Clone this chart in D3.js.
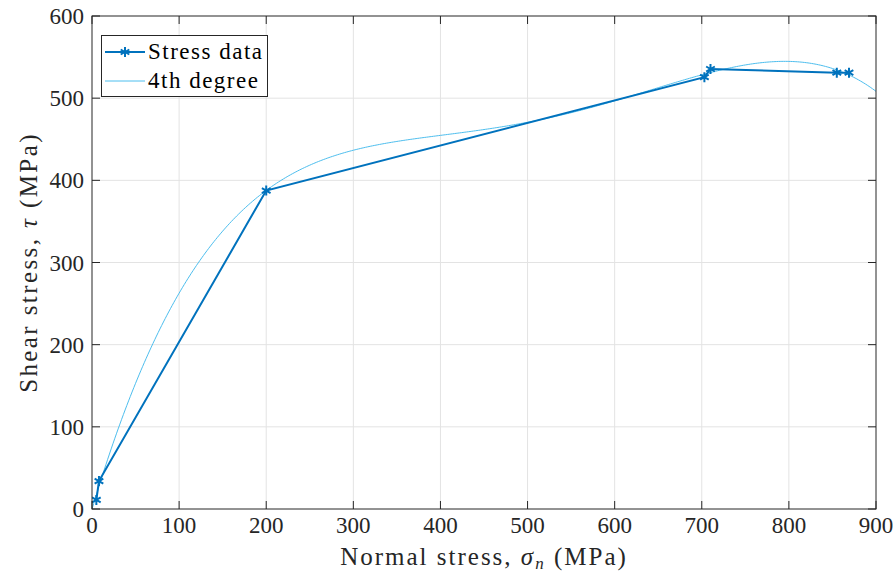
<!DOCTYPE html>
<html>
<head>
<meta charset="utf-8">
<script src="https://cdn.jsdelivr.net/npm/d3@7"></script>
<style>
  html, body { margin: 0; padding: 0; background: #fff; }
  svg { display: block; }
</style>
</head>
<body>
<svg id="chart" width="896" height="575"></svg>
<script>
// Measured stress data (MPa)
const normalStress = [5, 8, 200, 703, 710, 855, 869];
const shearStress  = [11, 34, 387.5, 525.5, 535.5, 531, 531];

const xTicks = [0, 100, 200, 300, 400, 500, 600, 700, 800, 900];
const yTicks = [0, 100, 200, 300, 400, 500, 600];
const seriesNames = ["Stress data", "4th degree"];
const fitDegree = 4;

const dataColor = "#0072BD";
const fitColor = "#4DBEEE";
const FONT = "Liberation Serif";

const svg = d3.select("#chart");
const margin = { left: 92, right: 20, top: 16, bottom: 66 };
const W = 896, H = 575;
const x = d3.scaleLinear().domain([0, 900]).range([margin.left, W - margin.right]);
const y = d3.scaleLinear().domain([0, 600]).range([H - margin.bottom, margin.top]);

// Least-squares polynomial fit (normal equations on scaled x)
function polyfit(xs, ys, deg) {
  const s = 1000;
  const n = deg + 1;
  const A = Array.from({ length: n }, () => new Array(n + 1).fill(0));
  xs.forEach((xv, k) => {
    const t = xv / s;
    const p = [];
    for (let i = 0; i < n; i++) p.push(Math.pow(t, i));
    for (let i = 0; i < n; i++) {
      for (let j = 0; j < n; j++) A[i][j] += p[i] * p[j];
      A[i][n] += p[i] * ys[k];
    }
  });
  for (let c = 0; c < n; c++) {
    let piv = c;
    for (let r = c + 1; r < n; r++) if (Math.abs(A[r][c]) > Math.abs(A[piv][c])) piv = r;
    [A[c], A[piv]] = [A[piv], A[c]];
    for (let r = 0; r < n; r++) {
      if (r === c) continue;
      const f = A[r][c] / A[c][c];
      for (let k = c; k <= n; k++) A[r][k] -= f * A[c][k];
    }
  }
  const coef = A.map((row, i) => row[n] / row[i]);
  return xv => coef.reduce((acc, c, i) => acc + c * Math.pow(xv / s, i), 0);
}
const fit = polyfit(normalStress, shearStress, fitDegree);
const fitX = d3.range(0, 900.01, 2);

// Grid
const grid = svg.append("g").attr("stroke", "#e3e3e3").attr("stroke-width", 1);
xTicks.slice(1, -1).forEach(t => grid.append("line")
  .attr("x1", x(t)).attr("x2", x(t)).attr("y1", y(0)).attr("y2", y(600)));
yTicks.slice(1, -1).forEach(t => grid.append("line")
  .attr("x1", x(0)).attr("x2", x(900)).attr("y1", y(t)).attr("y2", y(t)));

// Clip to plot area
svg.append("defs").append("clipPath").attr("id", "plot")
  .append("rect").attr("x", x(0)).attr("y", y(600))
  .attr("width", x(900) - x(0)).attr("height", y(0) - y(600));

const plot = svg.append("g").attr("clip-path", "url(#plot)");

// Fitted curve
plot.append("path")
  .datum(fitX)
  .attr("fill", "none").attr("stroke", fitColor).attr("stroke-width", 1)
  .attr("d", d3.line().x(d => x(d)).y(d => y(fit(d))));

// Data line
const pts = normalStress.map((v, i) => [v, shearStress[i]]);
plot.append("path")
  .datum(pts)
  .attr("fill", "none").attr("stroke", dataColor).attr("stroke-width", 2)
  .attr("d", d3.line().x(d => x(d[0])).y(d => y(d[1])));

const star = d3.symbol().type(d3.symbolAsterisk).size(70);
plot.selectAll("path.mk").data(pts).join("path")
  .attr("class", "mk")
  .attr("transform", d => `translate(${x(d[0])},${y(d[1])})`)
  .attr("d", star)
  .attr("fill", "none").attr("stroke", dataColor).attr("stroke-width", 2);

// Axes box
const axisColor = "#262626";
svg.append("rect")
  .attr("x", x(0)).attr("y", y(600))
  .attr("width", x(900) - x(0)).attr("height", y(0) - y(600))
  .attr("fill", "none").attr("stroke", axisColor).attr("stroke-width", 1);

// Ticks (inside, on all four sides)
const tk = svg.append("g").attr("stroke", axisColor).attr("stroke-width", 1);
xTicks.forEach(t => {
  tk.append("line").attr("x1", x(t)).attr("x2", x(t)).attr("y1", y(0)).attr("y2", y(0) - 8);
  tk.append("line").attr("x1", x(t)).attr("x2", x(t)).attr("y1", y(600)).attr("y2", y(600) + 8);
});
yTicks.forEach(t => {
  tk.append("line").attr("x1", x(0)).attr("x2", x(0) + 8).attr("y1", y(t)).attr("y2", y(t));
  tk.append("line").attr("x1", x(900)).attr("x2", x(900) - 8).attr("y1", y(t)).attr("y2", y(t));
});

// Tick labels
svg.append("g").selectAll("text").data(xTicks).join("text")
  .attr("x", d => x(d)).attr("y", y(0) + 24)
  .attr("text-anchor", "middle").attr("font-family", FONT).attr("font-size", 23).attr("fill", axisColor)
  .text(d => d);
svg.append("g").selectAll("text").data(yTicks).join("text")
  .attr("x", x(0) - 8).attr("y", d => y(d) + 8)
  .attr("text-anchor", "end").attr("font-family", FONT).attr("font-size", 23).attr("fill", axisColor)
  .text(d => d);

// Axis titles
const xt = svg.append("text")
  .attr("x", (x(0) + x(900)) / 2).attr("y", 565)
  .attr("text-anchor", "middle").attr("font-family", FONT).attr("font-size", 25)
  .attr("letter-spacing", 2).attr("fill", axisColor);
xt.append("tspan").text("Normal stress, ");
xt.append("tspan").attr("font-style", "italic").text("σ");
xt.append("tspan").attr("font-style", "italic").attr("font-size", 17).attr("dy", 4).text("n");
xt.append("tspan").attr("dy", -4).text(" (MPa)");

const yt = svg.append("text")
  .attr("transform", `translate(37,${(y(0) + y(600)) / 2}) rotate(-90)`)
  .attr("text-anchor", "middle").attr("font-family", FONT).attr("font-size", 25)
  .attr("letter-spacing", 2.4).attr("fill", axisColor);
yt.append("tspan").text("Shear stress, ");
yt.append("tspan").attr("font-style", "italic").text("τ");
yt.append("tspan").text("  (MPa)");

// Legend
const lg = svg.append("g");
lg.append("rect").attr("x", 101.5).attr("y", 35.5).attr("width", 166).attr("height", 61)
  .attr("fill", "#fff").attr("stroke", axisColor).attr("stroke-width", 1);
lg.append("line").attr("x1", 105).attr("x2", 145).attr("y1", 52).attr("y2", 52)
  .attr("stroke", dataColor).attr("stroke-width", 2);
lg.append("path").attr("transform", "translate(125,52)").attr("d", star)
  .attr("fill", "none").attr("stroke", dataColor).attr("stroke-width", 2);
lg.append("line").attr("x1", 105).attr("x2", 145).attr("y1", 81).attr("y2", 81)
  .attr("stroke", fitColor).attr("stroke-width", 1);
lg.selectAll("text.lt").data(seriesNames).join("text")
  .attr("class", "lt")
  .attr("x", 148).attr("y", (d, i) => 59 + i * 29)
  .attr("font-family", FONT).attr("font-size", 23).attr("letter-spacing", 1.5).attr("fill", "#000")
  .text(d => d);
</script>
</body>
</html>
